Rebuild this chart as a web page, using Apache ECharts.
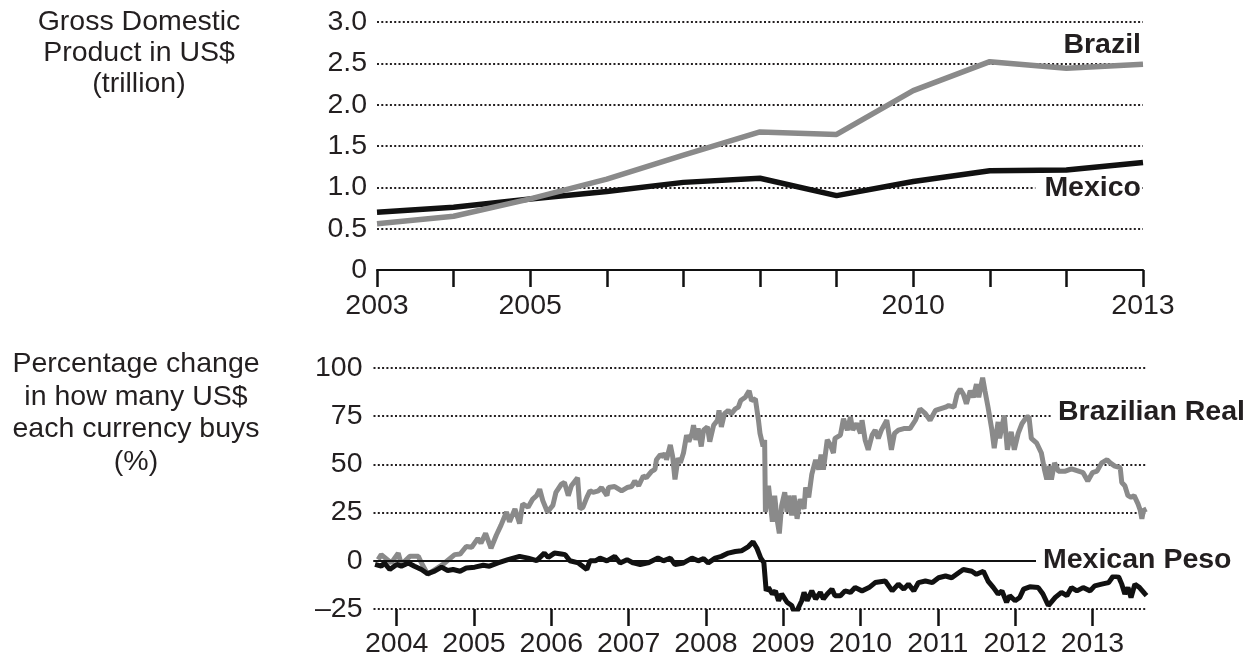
<!DOCTYPE html>
<html>
<head>
<meta charset="utf-8">
<title>Brazil and Mexico</title>
<script src="https://cdn.jsdelivr.net/npm/echarts@6/dist/echarts.min.js"></script>
<style>
  html, body { margin: 0; padding: 0; background: #fff; }
  #chartDiv { width: 1260px; height: 660px; }
</style>
</head>
<body>
<div id="chartDiv"></div>
<script>
// GDP, US$ trillion
let gdpYears = [2003, 2004, 2005, 2006, 2007, 2008, 2009, 2010, 2011, 2012, 2013];
let brazilGdp = [0.56, 0.65, 0.86, 1.10, 1.39, 1.67, 1.64, 2.17, 2.52, 2.44, 2.49];
let mexicoGdp = [0.70, 0.76, 0.86, 0.95, 1.06, 1.11, 0.90, 1.07, 1.20, 1.21, 1.30];
let gdpLabelYears = [2003, 2005, 2010, 2013];

// currency change, % (dates as decimal years)
let realDates = [2003.76,2003.80,2003.93,2004.02,2004.06,2004.17,2004.28,2004.31,2004.40,2004.60,
	2004.75,2004.82,2004.90,2004.97,2005.05,2005.09,2005.15,2005.22,2005.29,2005.35,
	2005.42,2005.46,2005.53,2005.59,2005.63,2005.70,2005.76,2005.81,2005.85,2005.89,
	2005.95,2006.02,2006.06,2006.13,2006.17,2006.22,2006.26,2006.34,2006.37,2006.41,
	2006.46,2006.50,2006.54,2006.61,2006.65,2006.72,2006.74,2006.82,2006.91,2006.98,
	2007.04,2007.08,2007.13,2007.19,2007.23,2007.30,2007.34,2007.36,2007.41,2007.45,
	2007.47,2007.49,2007.54,2007.57,2007.60,2007.64,2007.67,2007.71,2007.75,2007.78,
	2007.82,2007.84,2007.87,2007.90,2007.94,2007.97,2008.02,2008.05,2008.10,2008.15,
	2008.17,2008.20,2008.24,2008.29,2008.33,2008.38,2008.42,2008.45,2008.51,2008.56,
	2008.59,2008.64,2008.68,2008.70,2008.74,2008.76,2008.77,2008.81,2008.86,2008.89,
	2008.92,2008.95,2008.98,2009.02,2009.05,2009.07,2009.11,2009.14,2009.18,2009.22,
	2009.27,2009.29,2009.33,2009.37,2009.42,2009.46,2009.49,2009.52,2009.57,2009.61,
	2009.65,2009.67,2009.74,2009.78,2009.83,2009.87,2009.90,2009.95,2010.00,2010.02,
	2010.06,2010.10,2010.15,2010.19,2010.23,2010.27,2010.34,2010.40,2010.44,2010.49,
	2010.56,2010.64,2010.71,2010.77,2010.84,2010.90,2010.97,2011.03,2011.10,2011.14,
	2011.21,2011.25,2011.29,2011.33,2011.37,2011.42,2011.46,2011.50,2011.53,2011.58,
	2011.61,2011.65,2011.70,2011.73,2011.78,2011.80,2011.86,2011.90,2011.95,2011.99,
	2012.04,2012.09,2012.15,2012.18,2012.21,2012.28,2012.34,2012.38,2012.41,2012.44,
	2012.47,2012.51,2012.56,2012.65,2012.73,2012.82,2012.88,2012.94,2013.00,2013.06,
	2013.12,2013.19,2013.23,2013.29,2013.36,2013.38,2013.42,2013.46,2013.50,2013.54,
	2013.59,2013.62,2013.64,2013.66,2013.70];
let realValues = [0.6,3.2,-1.1,4.0,-1.9,2.3,2.3,-0.3,-7.0,-1.8,
	3.2,3.5,7.4,7.0,11.6,9.1,14.2,6.5,13.4,18.5,
	25.3,20.2,26.9,19.3,29.5,27.8,32.0,33.8,37.1,31.2,
	25.3,28.7,35.5,39.7,40.6,33.8,38.9,43.1,26.9,27.8,
	32.9,36.3,35.5,36.3,38.0,33.8,38.0,38.5,36.3,38.0,
	38.5,41.4,38.9,44.0,43.1,46.5,47.3,52.4,55.0,54.1,
	55.9,52.4,60.1,54.1,42.2,53.3,50.8,55.9,65.2,61.8,
	66.1,70.3,62.7,68.6,59.3,67.8,69.5,61.8,70.3,72.9,
	78.0,69.5,76.3,78.0,76.3,78.8,79.7,83.1,84.8,88.2,
	83.1,84.0,72.9,66.1,59.3,62.7,25.3,38.9,20.2,33.8,
	21.8,14.2,28.7,35.5,25.3,33.8,23.6,33.8,21.8,32.0,
	26.9,38.0,32.9,44.8,52.4,47.3,55.0,47.3,62.7,60.1,
	55.9,63.5,65.2,73.7,67.8,74.6,67.8,71.2,66.1,72.9,
	62.7,57.6,65.2,67.8,63.5,67.8,72.9,57.6,66.1,67.8,
	68.6,68.6,72.9,78.8,76.3,72.9,78.0,78.8,79.7,80.5,
	79.7,86.5,89.0,86.5,81.4,88.2,84.8,91.6,84.8,95.0,
	88.2,79.7,67.8,58.4,72.0,63.5,75.4,57.6,66.9,57.6,
	66.1,71.2,74.6,74.6,63.5,61.0,55.9,47.3,42.2,49.1,
	42.2,50.8,46.5,46.5,47.7,46.5,45.7,41.4,45.7,46.5,
	50.8,52.4,50.8,49.1,48.3,40.6,38.9,33.8,33.0,33.8,
	29.5,26.1,21.8,26.1,26.9];

let pesoDates = [2003.72,2003.80,2003.84,2003.91,2004.00,2004.06,2004.15,2004.23,2004.32,2004.40,
	2004.49,2004.58,2004.66,2004.73,2004.82,2004.90,2005.01,2005.12,2005.20,2005.31,
	2005.44,2005.59,2005.70,2005.81,2005.91,2005.96,2006.04,2006.13,2006.18,2006.24,
	2006.35,2006.46,2006.50,2006.57,2006.63,2006.72,2006.82,2006.89,2006.98,2007.06,
	2007.15,2007.25,2007.38,2007.45,2007.54,2007.60,2007.71,2007.82,2007.90,2007.97,
	2008.03,2008.12,2008.20,2008.29,2008.38,2008.46,2008.55,2008.61,2008.66,2008.71,
	2008.75,2008.78,2008.81,2008.86,2008.90,2008.94,2008.98,2009.05,2009.11,2009.16,
	2009.20,2009.24,2009.27,2009.31,2009.37,2009.42,2009.48,2009.52,2009.57,2009.63,
	2009.67,2009.74,2009.80,2009.87,2009.93,2010.02,2010.11,2010.19,2010.32,2010.41,
	2010.49,2010.56,2010.62,2010.69,2010.75,2010.84,2010.93,2011.01,2011.10,2011.18,
	2011.27,2011.33,2011.44,2011.50,2011.59,2011.65,2011.72,2011.78,2011.83,2011.89,
	2011.93,2012.00,2012.06,2012.11,2012.19,2012.30,2012.36,2012.43,2012.52,2012.60,
	2012.67,2012.73,2012.80,2012.88,2012.97,2013.03,2013.12,2013.21,2013.27,2013.34,
	2013.38,2013.42,2013.46,2013.50,2013.55,2013.61,2013.68,2013.70];
let pesoValues = [-1.9,-2.8,-1.1,-4.5,-1.9,-2.8,-1.1,-2.8,-4.5,-6.7,
	-5.4,-3.3,-5.0,-4.5,-5.4,-3.7,-3.3,-2.3,-2.8,-1.1,
	0.6,2.3,1.4,0.1,4.0,1.8,4.0,3.5,3.2,0,
	-1.1,-4.5,0,0,1.4,0,2.3,-1.1,0.6,-1.1,
	-1.9,-1.1,1.4,0,1.4,-1.9,-1.1,1.4,0,1.1,
	-1.1,1.4,2.3,4.0,4.8,5.2,7.4,9.9,6.5,1.4,
	-1.0,-15.6,-13.9,-17.2,-15.6,-20.7,-17.2,-21.5,-23.2,-28.3,
	-24.1,-20.7,-16.4,-20.7,-15.6,-19.8,-16.4,-19.8,-17.2,-14.7,
	-18.1,-18.1,-15.6,-16.4,-13.9,-15.6,-13.9,-11.3,-10.5,-15.6,
	-12.1,-14.7,-12.1,-15.6,-11.3,-10.5,-11.3,-8.8,-7.9,-8.8,
	-6.2,-4.5,-5.4,-7.0,-5.4,-10.5,-13.9,-17.2,-15.6,-21.5,
	-18.1,-20.7,-19.0,-14.7,-13.5,-13.9,-17.2,-23.2,-19.0,-16.4,
	-18.1,-13.9,-15.6,-13.9,-15.6,-13.0,-12.1,-11.3,-7.9,-8.4,
	-12.1,-17.2,-13.9,-19.0,-12.1,-13.9,-17.2,-18.1];
let currencyYears = [2004, 2005, 2006, 2007, 2008, 2009, 2010, 2011, 2012, 2013];

function pairs(xs, ys) {
	return xs.map(function (x, i) { return [x, ys[i]]; });
}

let myChart = echarts.init(document.getElementById('chartDiv'));

let fontName = '"Liberation Sans", Arial, Helvetica, sans-serif';
let textColor = '#231f20';
let labelSize = 28.5;
let dotted = { type: [2, 2.3], width: 2, color: '#231f20' };

let option = {
	backgroundColor: '#fff',
	animation: false,
	textStyle: { fontFamily: fontName },
	grid: [
		{ left: 377, right: 117, top: 22, bottom: 390, outerBoundsMode: 'none' },
		{ left: 373.5, right: 113.5, top: 368, bottom: 51, outerBoundsMode: 'none' }
	],
	xAxis: [
		{
			type: 'value', gridIndex: 0, min: 2003, max: 2013, interval: 1,
			axisLine: { show: true, onZero: false, lineStyle: { color: '#111', width: 2 } },
			axisTick: { show: true, length: 17, lineStyle: { color: '#111', width: 2.5 } },
			axisLabel: {
				customValues: gdpLabelYears, margin: 22,
				fontSize: labelSize, color: textColor, fontFamily: fontName,
				formatter: function (v) { return String(v); }
			},
			splitLine: { show: false }
		},
		{
			type: 'value', gridIndex: 1, min: 2003.7, max: 2013.7,
			axisLine: { show: false, onZero: false },
			axisTick: { show: true, customValues: currencyYears, length: 17, lineStyle: { color: '#111', width: 2.5 } },
			axisLabel: {
				customValues: currencyYears, margin: 21,
				fontSize: labelSize, color: textColor, fontFamily: fontName,
				formatter: function (v) { return String(v); }
			},
			splitLine: { show: false }
		}
	],
	yAxis: [
		{
			type: 'value', gridIndex: 0, min: 0, max: 3, interval: 0.5,
			axisLine: { show: false }, axisTick: { show: false },
			axisLabel: {
				margin: 10, fontSize: labelSize, color: textColor, fontFamily: fontName,
				formatter: function (v) { return v === 0 ? '0' : v.toFixed(1); }
			},
			splitLine: { show: true, lineStyle: dotted }
		},
		{
			type: 'value', gridIndex: 1, min: -25, max: 100, interval: 25,
			axisLine: { show: false }, axisTick: { show: false },
			axisLabel: {
				margin: 11, fontSize: labelSize, color: textColor, fontFamily: fontName,
				formatter: function (v) { return v < 0 ? '\u2013' + Math.abs(v) : String(v); }
			},
			splitLine: { show: true, lineStyle: dotted }
		}
	],
	series: [
		{
			name: 'Mexico', type: 'line', xAxisIndex: 0, yAxisIndex: 0,
			data: pairs(gdpYears, mexicoGdp), symbol: 'none',
			lineStyle: { color: '#111', width: 5.5 }
		},
		{
			name: 'Brazil', type: 'line', xAxisIndex: 0, yAxisIndex: 0,
			data: pairs(gdpYears, brazilGdp), symbol: 'none',
			lineStyle: { color: '#8a8a8a', width: 5.5 }
		},
		{
			name: 'Brazilian Real', type: 'line', xAxisIndex: 1, yAxisIndex: 1,
			data: pairs(realDates, realValues), symbol: 'none',
			lineStyle: { color: '#8a8a8a', width: 5 }
		},
		{
			name: 'Mexican Peso', type: 'line', xAxisIndex: 1, yAxisIndex: 1,
			data: pairs(pesoDates, pesoValues), symbol: 'none',
			lineStyle: { color: '#111', width: 5 },
			markLine: {
				silent: true, symbol: 'none', label: { show: false },
				lineStyle: { type: 'solid', color: '#111', width: 1.8 },
				data: [{ yAxis: 0 }]
			}
		}
	],
	graphic: [
		{
			type: 'text', x: 139, y: 7, z: 100,
			style: {
				text: 'Gross Domestic\nProduct in US$\n(trillion)',
				font: labelSize + 'px ' + fontName, fill: textColor,
				align: 'center', verticalAlign: 'top', lineHeight: 31
			}
		},
		{
			type: 'text', x: 136, y: 348, z: 100,
			style: {
				text: 'Percentage change\nin how many US$\neach currency buys\n(%)',
				font: labelSize + 'px ' + fontName, fill: textColor,
				align: 'center', verticalAlign: 'top', lineHeight: 32.5
			}
		},
		{
			type: 'text', x: 1141, y: 45, z: 100,
			style: {
				text: 'Brazil', font: 'bold 28.5px ' + fontName, fill: textColor,
				align: 'right', verticalAlign: 'middle'
			}
		},
		{
			type: 'text', x: 1141, y: 188, z: 100,
			style: {
				text: 'Mexico', font: 'bold 28.5px ' + fontName, fill: textColor,
				align: 'right', verticalAlign: 'middle',
				backgroundColor: '#fff', padding: [0, 0, 0, 9]
			}
		},
		{
			type: 'text', x: 1051, y: 412, z: 100,
			style: {
				text: 'Brazilian Real', font: 'bold 28.5px ' + fontName, fill: textColor,
				align: 'left', verticalAlign: 'middle',
				backgroundColor: '#fff', padding: [0, 4, 0, 7]
			}
		},
		{
			type: 'text', x: 1036, y: 560, z: 100,
			style: {
				text: 'Mexican Peso', font: 'bold 28.5px ' + fontName, fill: textColor,
				align: 'left', verticalAlign: 'middle',
				backgroundColor: '#fff', padding: [0, 4, 0, 7]
			}
		}
	]
};

myChart.setOption(option);
window.onresize = myChart.resize;
</script>
</body>
</html>
